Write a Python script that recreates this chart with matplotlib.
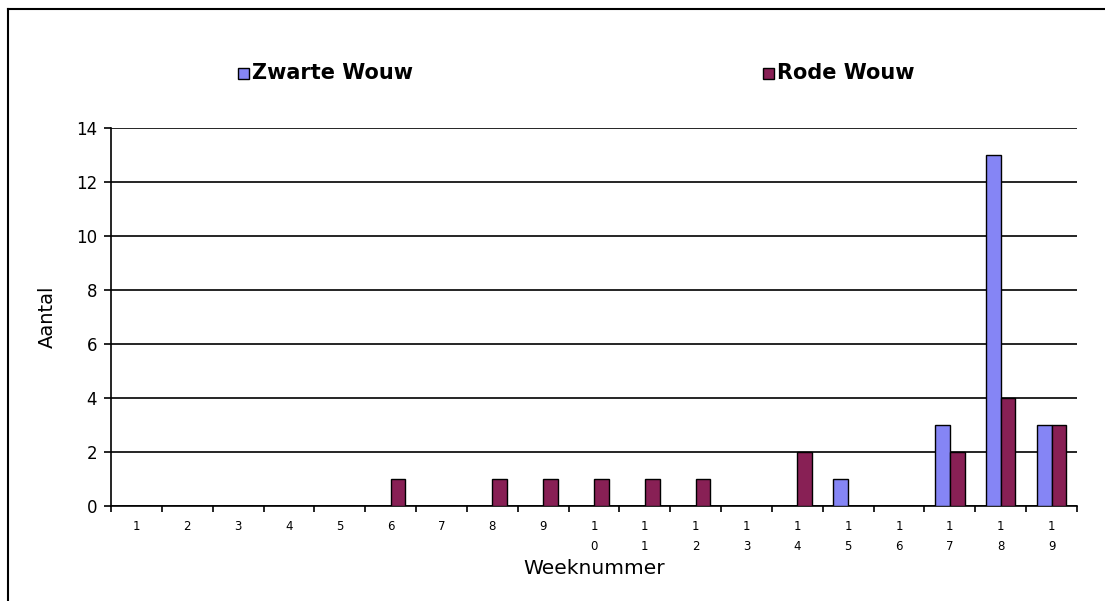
import numpy as np
import matplotlib
matplotlib.use('Agg')
import matplotlib.pyplot as plt
from matplotlib.patches import Rectangle
from matplotlib.lines import Line2D

plt.rcParams['font.family'] = ['DejaVu Sans']

weeks = list(range(1, 20))
zwarte_wouw = [0, 0, 0, 0, 0, 0, 0, 0, 0, 0, 0, 0, 0, 0, 1, 0, 3, 13, 3]
rode_wouw = [0, 0, 0, 0, 0, 1, 0, 1, 1, 1, 1, 1, 0, 2, 0, 0, 2, 4, 3]
week_labels = ['\n'.join(str(w)) for w in weeks]

W, H = 1105, 601
fig = plt.figure(figsize=(W / 100, H / 100), dpi=100)
fig.patch.set_facecolor('white')

# outer frame (only left and top edges visible)
fig.add_artist(Line2D([8 / W, 8 / W], [0, 1 - 9 / H], color='black', lw=1.5,
                      transform=fig.transFigure))
fig.add_artist(Line2D([8 / W, 1], [1 - 9 / H, 1 - 9 / H], color='black', lw=1.5,
                      transform=fig.transFigure))

ax = fig.add_axes([111 / W, 1 - 506 / H, (1077 - 111) / W, (506 - 128) / H])

x = np.arange(len(weeks))
bw = 0.29
ax.bar(x - bw / 2, zwarte_wouw, bw, color='#8585F5', edgecolor='black',
       linewidth=1, label='Zwarte Wouw', zorder=3)
ax.bar(x + bw / 2, rode_wouw, bw, color='#882055', edgecolor='black',
       linewidth=1, label='Rode Wouw', zorder=3)

ax.set_xlim(-0.5, len(weeks) - 0.5)
ax.set_ylim(0, 14)
ax.set_yticks(range(0, 15, 2))
ax.yaxis.grid(True, color='black', lw=1.2)
ax.set_axisbelow(True)

ax.set_xticks(x)
ax.set_xticklabels(week_labels, fontsize=8.5, linespacing=1.75, va='top')
ax.tick_params(axis='x', which='major', length=0, pad=10)
ax.set_xticks(np.arange(-0.5, len(weeks), 1), minor=True)
ax.tick_params(axis='x', which='minor', length=4, width=1.2, direction='out')
ax.tick_params(axis='y', length=5, width=1.2, labelsize=12, direction='out', pad=5)

for s in ['top', 'right']:
    ax.spines[s].set_visible(False)
ax.spines['left'].set_linewidth(1.2)
ax.spines['bottom'].set_linewidth(1.2)

ax.set_ylabel('Aantal', fontsize=14, labelpad=14)
ax.set_xlabel('Weeknummer', fontsize=14.5, labelpad=4)

# legend as two separate entries at top
fig.add_artist(Rectangle((238 / W, 1 - 79 / H), 11 / W, 11 / H, facecolor='#8585F5',
                         edgecolor='black', lw=1, transform=fig.transFigure))
fig.text(252 / W, 1 - 73 / H, 'Zwarte Wouw', fontsize=15, fontweight='bold',
         va='center', ha='left')
fig.add_artist(Rectangle((763 / W, 1 - 79 / H), 11 / W, 11 / H, facecolor='#882055',
                         edgecolor='black', lw=1, transform=fig.transFigure))
fig.text(777 / W, 1 - 73 / H, 'Rode Wouw', fontsize=15, fontweight='bold',
         va='center', ha='left')

fig.savefig('out.png', dpi=100, facecolor='white')
